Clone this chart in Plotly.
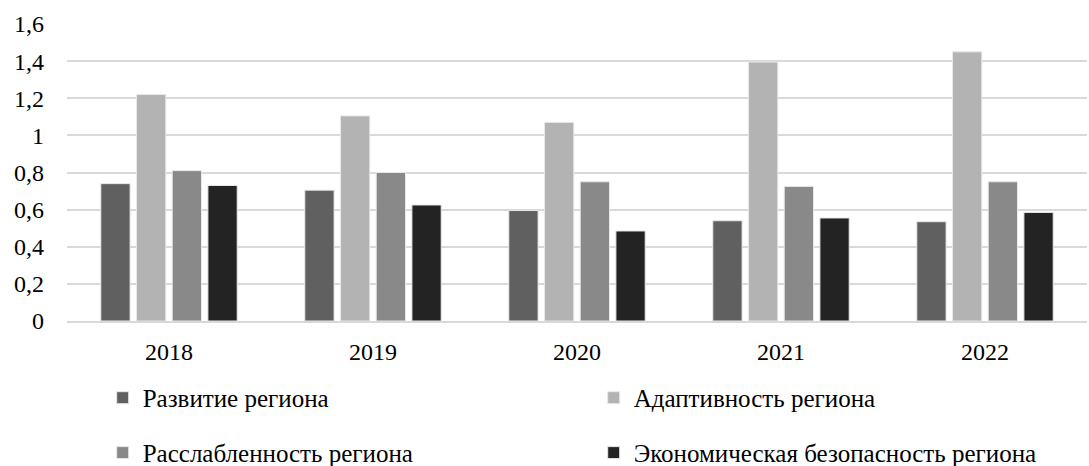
import plotly.graph_objects as go

years = ["2018", "2019", "2020", "2021", "2022"]
razvitie = [0.74, 0.705, 0.595, 0.54, 0.535]
adaptivnost = [1.22, 1.105, 1.07, 1.395, 1.45]
rasslablennost = [0.81, 0.80, 0.75, 0.725, 0.75]
ekon_bezopasnost = [0.73, 0.625, 0.485, 0.555, 0.585]

names = ["Развитие региона", "Адаптивность региона",
         "Расслабленность региона", "Экономическая безопасность региона"]
colors = ["#606060", "#b3b3b3", "#898989", "#232323"]
series = [razvitie, adaptivnost, rasslablennost, ekon_bezopasnost]
legends = ["legend", "legend", "legend2", "legend2"]

fig = go.Figure()
for name, vals, col, lg in zip(names, series, colors, legends):
    fig.add_trace(go.Bar(x=years, y=vals, name=name, legend=lg,
                         marker=dict(color=col, line=dict(color="#e8e8e8", width=1))))

font = dict(family="Liberation Serif", size=24, color="#000000")
leg = dict(orientation="h", x=0.035, xanchor="left", yanchor="middle",
           entrywidth=446, entrywidthmode="pixels", itemwidth=30,
           font=dict(font, size=25), bgcolor="rgba(0,0,0,0)", traceorder="normal")

fig.update_layout(
    width=1089, height=466,
    margin=dict(l=67, r=2, t=24, b=145, autoexpand=False),
    paper_bgcolor="white", plot_bgcolor="white",
    font=font,
    separators=", ",
    barmode="group", bargap=0.30, bargroupgap=0.18,
    legend=dict(leg, y=-0.259),
    legend2=dict(leg, y=-0.444),
)
fig.update_xaxes(showgrid=False, showline=True, linecolor="#d9d9d9", linewidth=2,
                 ticks="", ticklabelstandoff=8)
fig.update_yaxes(range=[0, 1.6], dtick=0.2, showgrid=True, gridcolor="#d9d9d9",
                 gridwidth=2, zeroline=False, showline=False, ticks="",
                 ticklabelstandoff=22)

# page has a default 8px body margin, drop it so the figure fills the window
fig.write_html("out.html", config={"displayModeBar": False},
               post_script="document.body.style.margin='0px';")
